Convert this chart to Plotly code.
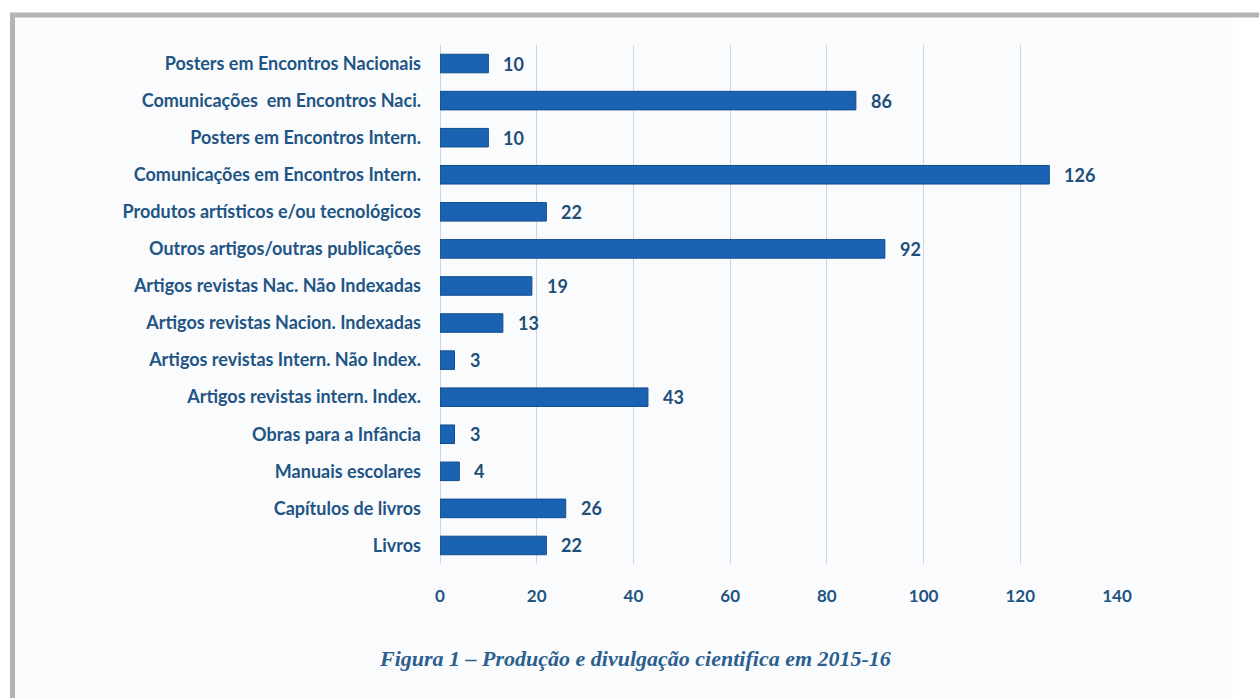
import plotly.graph_objects as go

# Categories listed top to bottom as shown on the chart
categories = [
    "Posters em Encontros Nacionais",
    "Comunicações  em Encontros Naci.",
    "Posters em Encontros Intern.",
    "Comunicações em Encontros Intern.",
    "Produtos artísticos e/ou tecnológicos",
    "Outros artigos/outras publicações",
    "Artigos revistas Nac. Não Indexadas",
    "Artigos revistas Nacion. Indexadas",
    "Artigos revistas Intern. Não Index.",
    "Artigos revistas intern. Index.",
    "Obras para a Infância",
    "Manuais escolares",
    "Capítulos de livros",
    "Livros",
]
values = [10, 86, 10, 126, 22, 92, 19, 13, 3, 43, 3, 4, 26, 22]
x_ticks = [0, 20, 40, 60, 80, 100, 120, 140]
caption = "Figura 1 – Produção e divulgação cientifica em 2015-16"

W, H = 1259, 698
ML, MR, MT, MB = 440, 142, 45, 134
PW, PH = W - ML - MR, H - MT - MB

def px(x):
    return (x - ML) / PW

def py(y):
    return (H - MB - y) / PH

label_font = "Lato, 'Open Sans', sans-serif"
label_color = "#1f5585"
bar_color = "#1a63b3"

fig = go.Figure(
    go.Bar(
        x=values,
        y=categories,
        orientation="h",
        marker=dict(color=bar_color, line=dict(color="#0f4d90", width=1)),
        width=0.5,
        hoverinfo="x+y",
    )
)

# value labels to the right of each bar
for cat, v in zip(categories, values):
    fig.add_annotation(
        x=v, y=cat, text=str(v), showarrow=False,
        xanchor="left", xshift=13,
        font=dict(family=label_font, size=18, color="#1e4e7a", weight="bold"),
    )

# figure caption
fig.add_annotation(
    x=px(635), y=py(658), xref="paper", yref="paper",
    text=caption, showarrow=False, xanchor="center", yanchor="middle",
    font=dict(family="'Liberation Serif', 'DejaVu Serif', serif", size=22,
              color="#2b5f8f", style="italic", weight="bold"),
)

# framed panel behind the chart
shapes = [
    dict(type="rect", xref="paper", yref="paper", layer="below",
         x0=px(12), x1=px(1233), y0=py(H + 5), y1=py(15),
         fillcolor="#fafbfc", line=dict(width=0)),
    dict(type="line", xref="paper", yref="paper", layer="below",
         x0=px(10), x1=px(W + 5), y0=py(15), y1=py(15),
         line=dict(color="#b4b4b4", width=5)),
    dict(type="line", xref="paper", yref="paper", layer="below",
         x0=px(12.5), x1=px(12.5), y0=py(13), y1=py(H + 5),
         line=dict(color="#b4b4b4", width=5)),
]

fig.update_layout(
    width=W, height=H,
    margin=dict(l=ML, r=MR, t=MT, b=MB),
    paper_bgcolor="white",
    plot_bgcolor="rgba(0,0,0,0)",
    showlegend=False,
    shapes=shapes,
    xaxis=dict(
        range=[0, 140], tickvals=x_ticks, ticktext=[str(t) for t in x_ticks],
        showgrid=True, gridcolor="#cdd5e0", gridwidth=1,
        zeroline=True, zerolinecolor="#cdd5e0", zerolinewidth=1,
        showline=False, ticks="", ticklabelstandoff=20,
        tickfont=dict(family=label_font, size=17, color=label_color, weight="bold"),
    ),
    yaxis=dict(
        categoryorder="array", categoryarray=categories[::-1],
        showgrid=False, showline=False, zeroline=False, ticks="",
        ticklabelstandoff=18,
        tickfont=dict(family=label_font, size=18, color=label_color, weight="bold"),
    ),
)

fig.write_html("out.html")
